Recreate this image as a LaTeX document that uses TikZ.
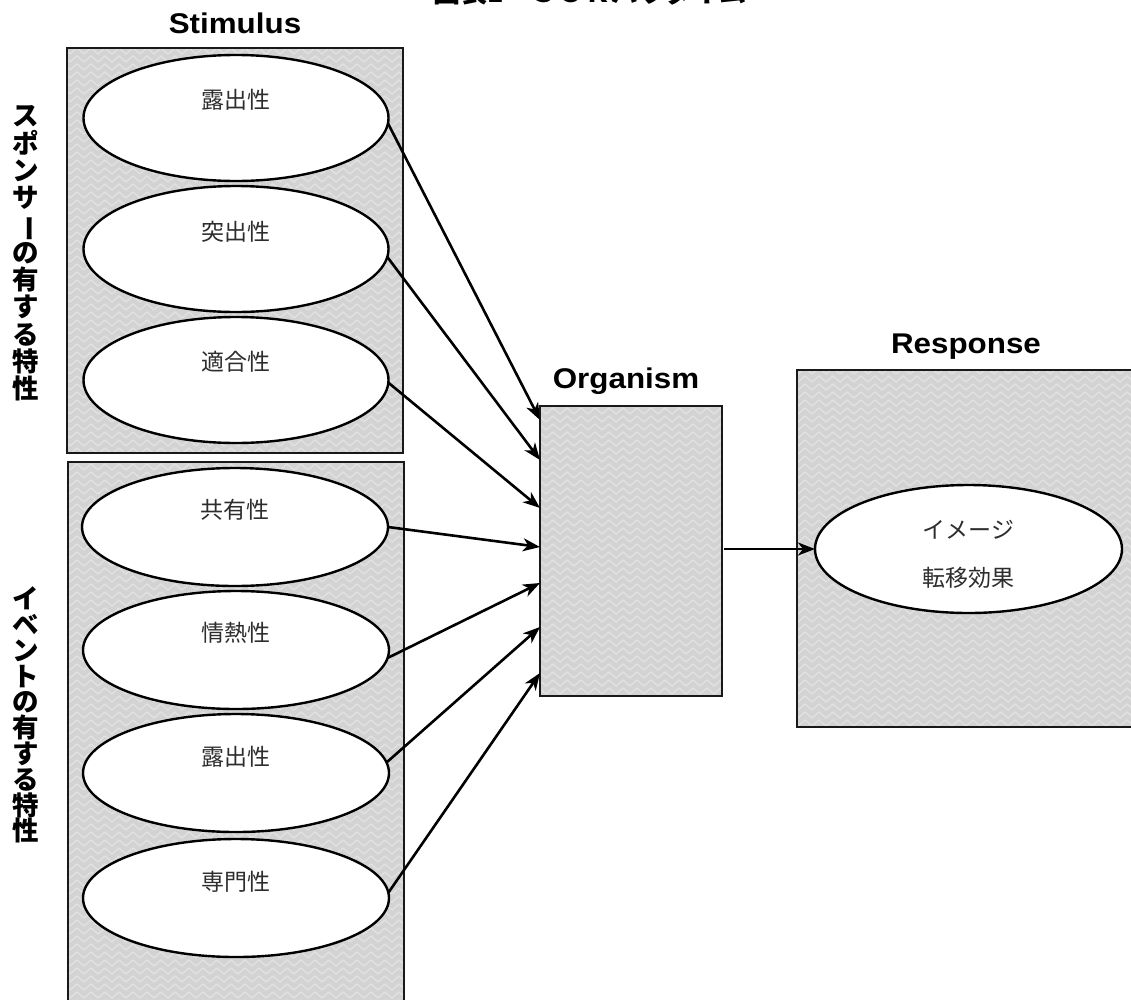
\documentclass[tikz,border=0pt]{standalone}
\usepackage{fontspec}
\usepackage{graphicx}
\setmainfont{Liberation Sans}
\newfontfamily\jpfont{Noto Sans CJK JP}
\usetikzlibrary{shapes.geometric,arrows.meta,patterns.meta}

\definecolor{panelgray}{RGB}{211,211,211}
\definecolor{panelweave}{RGB}{225,225,225}
\definecolor{labelgray}{RGB}{45,45,45}

% light woven texture laid over the grey panels
\tikzdeclarepattern{
  name=weave,
  type=uncolored,
  bounding box={(-1pt,-1pt) and (15pt,9pt)},
  tile size={(14pt,8pt)},
  code={
    \draw[line width=1.4pt] (0pt,1pt) -- (7pt,7pt) -- (14pt,1pt);
  }
}

% vertical long-vowel mark for top-to-bottom text
\newcommand\vchoon{\rotatebox[origin=c]{-90}{ー}}

\begin{document}
\begin{tikzpicture}[x=1pt,y=-1pt,
  panel/.style={rectangle, draw=black!90, line width=2pt,
    preaction={fill=panelgray}, pattern=weave, pattern color=panelweave,
    inner sep=0pt, outer sep=0pt},
  trait/.style={ellipse, draw=black, line width=2.4pt, fill=white,
    inner sep=0pt, outer sep=0pt},
  traitlabel/.style={font=\jpfont\fontsize{23}{26}\selectfont,
    text=labelgray, inner sep=0pt},
  heading/.style={font=\bfseries\fontsize{28.5}{32}\selectfont,
    anchor=base, inner sep=0pt},
  sidelabel/.style={align=center, inner sep=0pt},
  link/.style={line width=2.6pt,
    -{Stealth[length=17pt,width=13pt,inset=5pt]}}
]
\useasboundingbox (0,0) rectangle (1131,999);

% title (runs off the top edge)
\node[font=\jpfont\bfseries\fontsize{27}{30}\selectfont, anchor=base,
  inner sep=0pt] (title) at (590,2.5) {図表1　ＳＯＲパラダイム};

% panels
\node[panel, minimum width=336pt, minimum height=405pt] (spon) at (235,250.5) {};
\node[panel, minimum width=336pt, minimum height=550pt] (evt)  at (236,737) {};
\node[panel, minimum width=182pt, minimum height=290pt] (org)  at (631,551) {};
\node[panel, minimum width=345pt, minimum height=357pt] (resp) at (969.5,548.5) {};

% headings
\node[heading] (hstim) at (235,33)  {\scalebox{1.1}[1]{Stimulus}};
\node[heading] (horg)  at (626,388) {\scalebox{1.1}[1]{Organism}};
\node[heading] (hresp) at (966,353) {\scalebox{1.1}[1]{Response}};

% side labels
\node[sidelabel, font=\jpfont\bfseries\fontsize{26.5}{27.3}\selectfont]
  (lspon) at (26,253.5) {ス\\ポ\\ン\\サ\\\vchoon\\の\\有\\す\\る\\特\\性};
\node[sidelabel, font=\jpfont\bfseries\fontsize{26.5}{25.8}\selectfont]
  (levt) at (26,715) {イ\\ベ\\ン\\ト\\の\\有\\す\\る\\特\\性};

% sponsor traits
\begin{scope}[every node/.append style={minimum width=305pt, minimum height=126pt}]
  \node[trait] (s1) at (236,118) {};
  \node[trait] (s2) at (236,249) {};
  \node[trait] (s3) at (236,380) {};
\end{scope}
\node[traitlabel] (ts1) at ([yshift=18pt]s1.center) {露出性};
\node[traitlabel] (ts2) at ([yshift=17pt]s2.center) {突出性};
\node[traitlabel] (ts3) at ([yshift=18pt]s3.center) {適合性};

% event traits
\begin{scope}[every node/.append style={minimum width=306pt, minimum height=118pt}]
  \node[trait] (e1) at (235,527) {};
  \node[trait] (e2) at (236,650) {};
  \node[trait] (e3) at (236,773) {};
  \node[trait] (e4) at (236,898) {};
\end{scope}
\node[traitlabel] (te1) at ([yshift=17pt]e1.center) {共有性};
\node[traitlabel] (te2) at ([yshift=17pt]e2.center) {情熱性};
\node[traitlabel] (te3) at ([yshift=16pt]e3.center) {露出性};
\node[traitlabel] (te4) at ([yshift=16pt]e4.center) {専門性};

% response
\node[trait, minimum width=307pt, minimum height=128pt] (r) at (968.5,549) {};
\node[traitlabel] (tr1) at ([yshift=19pt]r.center)  {イメージ};
\node[traitlabel] (tr2) at ([yshift=-29pt]r.center) {転移効果};

% connectors into the organism
\draw[link] (s1.-2.7) -- ([yshift=-14pt]org.north west);
\draw[link] (s2.-3.4) -- ([yshift=-54pt]org.north west);
\draw[link] (s3.-1.9) -- ([yshift=-102pt]org.north west);
\draw[link] (e1.east) -- ([yshift=-141pt]org.north west);
\draw[link] (e2.-3)   -- ([yshift=-177pt]org.north west);
\draw[link] (e3.4)    -- ([yshift=-221pt]org.north west);
\draw[link] (e4.2)    -- ([yshift=-267pt]org.north west);

% organism to response
\draw[link, shorten <=2pt] (org.east |- r.west) -- (r.west);
\end{tikzpicture}
\end{document}
